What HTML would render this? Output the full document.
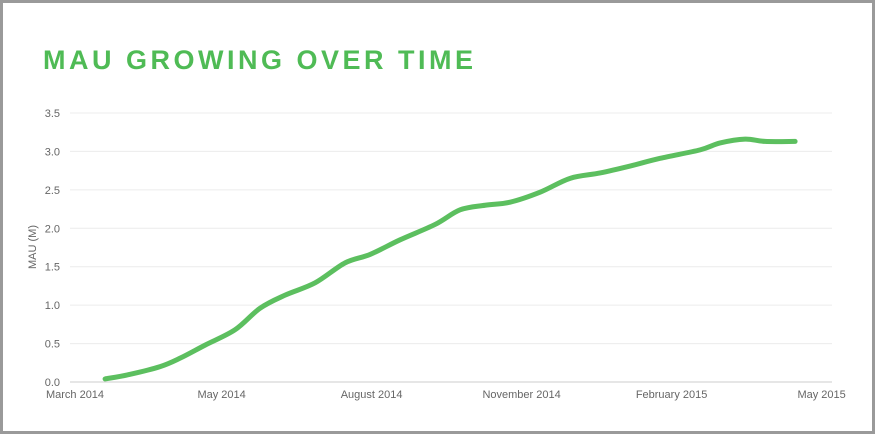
<!DOCTYPE html>
<html><head><meta charset="utf-8">
<style>
html,body{margin:0;padding:0;background:#fff;}
#frame{position:relative;width:869px;height:428px;border:3px solid #9a9a9a;background:#fff;overflow:hidden;}
#title{position:absolute;left:40px;top:42px;font-family:"Liberation Sans",sans-serif;font-weight:bold;font-size:27px;letter-spacing:3.5px;color:#4fbb55;margin:0;}
svg{position:absolute;left:0;top:0;}
text{font-family:"Liberation Sans",sans-serif;font-size:11px;fill:#666;}
</style></head>
<body>
<div id="frame">
<h1 id="title">MAU GROWING OVER TIME</h1>
<svg id="chart" width="869" height="428"></svg>
</div>
<script>
const months = [-0.33,0.17,0.77,1.17,1.67,2.27,2.77,3.27,3.87,4.47,4.97,5.57,6.27,6.77,7.27,7.77,8.37,8.97,9.57,10.17,10.77,11.57,11.97,12.47,12.87,13.47];
const mau = [0.04,0.10,0.20,0.31,0.48,0.68,0.96,1.13,1.29,1.55,1.66,1.85,2.05,2.24,2.30,2.34,2.47,2.65,2.72,2.81,2.91,3.02,3.11,3.16,3.13,3.13];
const yTicks = [0,0.5,1,1.5,2,2.5,3,3.5];
const yTickLabels = ["0.0","0.5","1.0","1.5","2.0","2.5","3.0","3.5"];
const xTickMonths = [2,5,8,11,14];
const xTickLabels = ["May 2014","August 2014","November 2014","February 2015","May 2015"];
const firstLabel = "March 2014";

const OX=-3, OY=-3; // frame offset
const x = m => 121.6 + 50*m + OX;
const y = v => 382 - v*76.86 + OY;
const plotL = 70+OX, plotR = 832+OX;
const svg = document.getElementById('chart');
const NS='http://www.w3.org/2000/svg';
function mk(tag, attrs){const e=document.createElementNS(NS,tag);for(const k in attrs)e.setAttribute(k,attrs[k]);svg.appendChild(e);return e;}

yTicks.forEach((v,i)=>{
  const g = mk('line',{x1:plotL,x2:plotR,y1:y(v),y2:y(v),stroke:v===0?'#ccc':'#ececec','stroke-width':1});
  
  
  const t = mk('text',{x:plotL-10,y:y(v)+4,'text-anchor':'end'});
  t.textContent = yTickLabels[i];
  
  
});
const f = mk('text',{x:75+OX,y:398+OY,'text-anchor':'middle'});
f.textContent = firstLabel;


xTickMonths.forEach((m,i)=>{
  const t = mk('text',{x:x(m),y:398+OY,'text-anchor':'middle'});
  t.textContent = xTickLabels[i];
  
  
});
const yt = mk('text',{x:0,y:0,'text-anchor':'middle',transform:`translate(${36+OX},${247+OY}) rotate(-90)`});
yt.textContent = 'MAU (M)';



// smooth path (catmull-rom)
const pts = months.map((m,i)=>[x(m),y(mau[i])]);
let d = `M${pts[0][0]},${pts[0][1]}`;
for(let i=0;i<pts.length-1;i++){
  const p0=pts[Math.max(0,i-1)],p1=pts[i],p2=pts[i+1],p3=pts[Math.min(pts.length-1,i+2)];
  const c1=[p1[0]+(p2[0]-p0[0])/6,p1[1]+(p2[1]-p0[1])/6];
  const c2=[p2[0]-(p3[0]-p1[0])/6,p2[1]-(p3[1]-p1[1])/6];
  d+=` C${c1[0]},${c1[1]} ${c2[0]},${c2[1]} ${p2[0]},${p2[1]}`;
}
const line = mk('path',{d:d,fill:'none',stroke:'#5cbf5f','stroke-width':5,'stroke-linecap':'round','stroke-linejoin':'round'});


</script>
</body></html>
